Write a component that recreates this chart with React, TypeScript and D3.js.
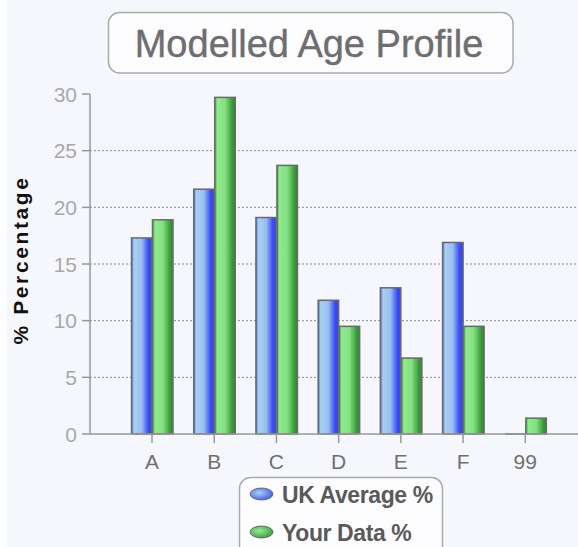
import React, { useEffect } from "react";
import * as d3 from "d3";

const categories = ["A", "B", "C", "D", "E", "F", "99"];
const ukAverage = [17.3, 21.6, 19.1, 11.8, 12.9, 16.9, 0];
const yourData = [18.9, 29.7, 23.7, 9.5, 6.7, 9.5, 1.4];
const yTicks = [0, 5, 10, 15, 20, 25, 30];
const seriesNames = ["UK Average %", "Your Data %"];
const titleText = "Modelled Age Profile";
const yAxisLabel = "% Percentage";

const W = 578;
const H = 547;

export default function App() {
  useEffect(() => {
    document.body.style.margin = "0";
  }, []);

  const x0 = 90;
  const y = d3.scaleLinear().domain([0, 30]).range([434, 94]);
  const x = d3.scalePoint<string>().domain(categories).range([152, 525.3]);
  const bw = 20.5;
  const font = "'Liberation Sans', Arial, sans-serif";

  const series = [
    { name: seriesNames[0], values: ukAverage, grad: "url(#gBlue)", off: -bw },
    { name: seriesNames[1], values: yourData, grad: "url(#gGreen)", off: 0.5 },
  ];

  return (
    <div style={{ position: "absolute", left: 0, top: 0 }}>
      <svg width={W} height={H} style={{ display: "block" }}>
        <defs>
          <linearGradient id="gBlue" x1="0" x2="1" y1="0" y2="0">
            <stop offset="0%" stopColor="#4c62ea" />
            <stop offset="12%" stopColor="#a9d0ee" />
            <stop offset="50%" stopColor="#98bef0" />
            <stop offset="82%" stopColor="#3a4cf4" />
            <stop offset="100%" stopColor="#3646e0" />
          </linearGradient>
          <linearGradient id="gGreen" x1="0" x2="1" y1="0" y2="0">
            <stop offset="0%" stopColor="#3c9c3c" />
            <stop offset="12%" stopColor="#90ea8e" />
            <stop offset="50%" stopColor="#84e082" />
            <stop offset="85%" stopColor="#3a9a3a" />
            <stop offset="100%" stopColor="#2f8a30" />
          </linearGradient>
          <radialGradient id="lBlue" cx="0.4" cy="0.4" r="0.7">
            <stop offset="0%" stopColor="#a8cff2" />
            <stop offset="100%" stopColor="#3e56e6" />
          </radialGradient>
          <radialGradient id="lGreen" cx="0.4" cy="0.4" r="0.7">
            <stop offset="0%" stopColor="#98ea96" />
            <stop offset="100%" stopColor="#319a33" />
          </radialGradient>
        </defs>
        <rect x={0} y={0} width={W} height={H} fill="#f5f7fd" />
        <rect x={0} y={0} width={7} height={H} fill="#fcfdff" />

        {/* Title */}
        <rect x={108.5} y={12.5} width={404.5} height={60.5} rx={11} fill="#fdfdff" stroke="#aaaaaa" strokeWidth={1.5} />
        <text x={309} y={57} textAnchor="middle" fontFamily={font} fontSize={38} fill="#6e6e6e" stroke="#6e6e6e" strokeWidth={0.4}>
          {titleText}
        </text>

        {/* Gridlines */}
        {yTicks.filter((t) => t > 0 && t < 30).map((t) => (
          <line key={"g" + t} x1={x0} x2={W} y1={y(t)} y2={y(t)} stroke="#8a8a8a" strokeWidth={1} strokeDasharray="2 2" />
        ))}

        {/* Y ticks and labels */}
        {yTicks.map((t) => (
          <g key={"t" + t}>
            <line x1={82} x2={x0} y1={y(t)} y2={y(t)} stroke="#999999" strokeWidth={1.5} />
            <text x={77} y={y(t) + 7.5} textAnchor="end" fontFamily={font} fontSize={21} fill="#a8a8a8">
              {t}
            </text>
          </g>
        ))}

        {/* Bars */}
        {series.map((s, si) =>
          s.values.map((v, i) => {
            const cx = x(categories[i]) as number;
            const bx = cx + s.off;
            if (v === 0) {
              return (
                <line key={si + "-" + i} x1={bx} x2={bx + bw} y1={y(0)} y2={y(0)} stroke="#666666" strokeWidth={1.5} />
              );
            }
            return (
              <rect
                key={si + "-" + i}
                x={bx}
                y={y(v)}
                width={bw}
                height={y(0) - y(v)}
                fill={s.grad}
                stroke="#6a6a6a"
                strokeWidth={1.5}
              />
            );
          })
        )}

        {/* Axes */}
        <line x1={x0} x2={x0} y1={94} y2={434} stroke="#999999" strokeWidth={1.5} />
        <line x1={x0} x2={W} y1={434} y2={434} stroke="#999999" strokeWidth={1.5} />
        {categories.map((c) => (
          <g key={"x" + c}>
            <line x1={x(c)} x2={x(c)} y1={434} y2={443} stroke="#999999" strokeWidth={1.5} />
            <text x={x(c)} y={469} textAnchor="middle" fontFamily={font} fontSize={21} fill="#707070">
              {c}
            </text>
          </g>
        ))}

        {/* Y axis label */}
        <text
          transform={`translate(28, 260) rotate(-90)`}
          textAnchor="middle"
          fontFamily={font}
          fontSize={21}
          fontWeight="bold"
          letterSpacing={2.6}
          fill="#111111"
        >
          {yAxisLabel}
        </text>

        {/* Legend */}
        <rect x={239.5} y={477.5} width={203} height={90} rx={11} fill="#fdfdff" stroke="#aaaaaa" strokeWidth={1.5} />
        {series.map((s, i) => (
          <g key={"l" + i}>
            <ellipse cx={261.5} cy={494 + i * 38} rx={11.5} ry={6} fill={i === 0 ? "url(#lBlue)" : "url(#lGreen)"} stroke="#555" strokeWidth={0.8} />
            <text x={282} y={503 + i * 38} fontFamily={font} fontSize={23} fontWeight="bold" letterSpacing={-0.4} fill="#5a5a5a">
              {s.name}
            </text>
          </g>
        ))}
      </svg>
    </div>
  );
}
